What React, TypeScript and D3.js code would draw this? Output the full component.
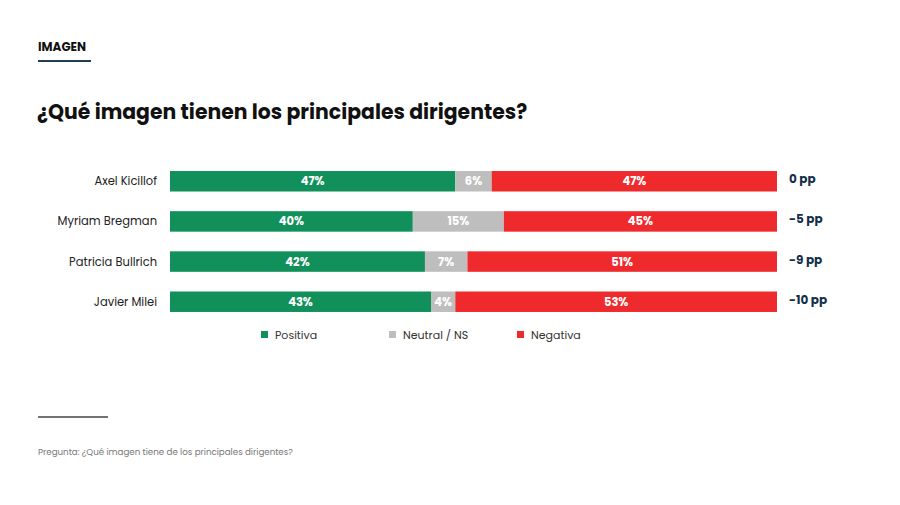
import { useEffect, useRef } from "react";
import * as d3 from "d3";

const names = ["Axel Kicillof", "Myriam Bregman", "Patricia Bullrich", "Javier Milei"];
const positiva = [47, 40, 42, 43];
const neutral = [6, 15, 7, 4];
const negativa = [47, 45, 51, 53];
const diffs = ["0 pp", "-5 pp", "-9 pp", "-10 pp"];
const seriesKeys = ["Positiva", "Neutral / NS", "Negativa"];
const colors = ["#11905b", "#bebebe", "#ef2a2c"];

const FONT = "Poppins, Inter, 'Open Sans', sans-serif";

export default function App() {
  const svgRef = useRef<SVGSVGElement | null>(null);

  useEffect(() => {
    const width = 900;
    const height = 505;
    const svg = d3.select(svgRef.current).attr("width", width).attr("height", height);
    svg.selectAll("*").remove();

    svg.append("rect").attr("width", width).attr("height", height).attr("fill", "#ffffff");

    // header
    svg.append("text").attr("x", 38).attr("y", 51)
      .style("font-family", FONT).style("font-weight", 700).style("font-size", "12px")
      .attr("fill", "#111").text("IMAGEN");
    svg.append("line").attr("x1", 38).attr("x2", 91).attr("y1", 61).attr("y2", 61)
      .attr("stroke", "#1f3d57").attr("stroke-width", 2);

    svg.append("text").attr("x", 37).attr("y", 119)
      .style("font-family", FONT).style("font-weight", 700).style("font-size", "20.4px")
      .attr("fill", "#111").text("¿Qué imagen tienen los principales dirigentes?");

    const rows = names.map((n, i) => ({
      name: n, diff: diffs[i], vals: [positiva[i], neutral[i], negativa[i]],
    }));

    const x = d3.scaleLinear().domain([0, 100]).range([170, 777]);
    const y = d3.scaleBand().domain(names).range([163, 320]).paddingInner(0.49).paddingOuter(0.2);

    const g = svg.append("g");
    rows.forEach((r) => {
      let acc = 0;
      const yy = y(r.name)!;
      const bh = y.bandwidth();
      r.vals.forEach((v, j) => {
        g.append("rect").attr("x", x(acc)).attr("y", yy).attr("width", x(acc + v) - x(acc))
          .attr("height", bh).attr("fill", colors[j]);
        g.append("text").attr("x", (x(acc) + x(acc + v)) / 2).attr("y", yy + bh / 2 + 4)
          .attr("text-anchor", "middle").style("font-family", FONT).style("font-weight", 700)
          .style("font-size", "11.5px").attr("fill", "#ffffff").text(v + "%");
        acc += v;
      });
      g.append("text").attr("x", 157).attr("y", yy + bh / 2 + 4).attr("text-anchor", "end")
        .style("font-family", FONT).style("font-size", "11.5px").attr("fill", "#222").text(r.name);
      g.append("text").attr("x", 789).attr("y", yy + bh / 2 + 2)
        .style("font-family", FONT).style("font-weight", 700).style("font-size", "12px")
        .attr("fill", "#12304a").text(r.diff);
    });

    // legend
    const legX = [261, 389, 517];
    seriesKeys.forEach((k, i) => {
      svg.append("rect").attr("x", legX[i]).attr("y", 331).attr("width", 7).attr("height", 7)
        .attr("fill", colors[i]);
      svg.append("text").attr("x", legX[i] + 14).attr("y", 339)
        .style("font-family", FONT).style("font-size", "11px").attr("fill", "#333").text(k);
    });

    // footer
    svg.append("line").attr("x1", 38).attr("x2", 108).attr("y1", 417).attr("y2", 417)
      .attr("stroke", "#444").attr("stroke-width", 1.5);
    svg.append("text").attr("x", 38).attr("y", 455)
      .style("font-family", FONT).style("font-size", "8.7px").attr("fill", "#777")
      .text("Pregunta: ¿Qué imagen tiene de los principales dirigentes?");
  }, []);

  return (
    <div style={{ position: "absolute", left: 0, top: 0 }}>
      <svg ref={svgRef}></svg>
    </div>
  );
}
